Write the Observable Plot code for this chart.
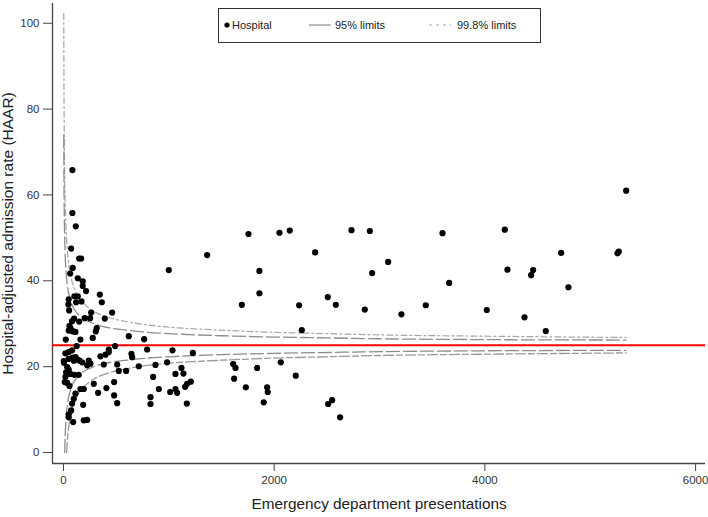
<!DOCTYPE html>
<html>
<head>
<meta charset="utf-8">
<script src="https://cdn.jsdelivr.net/npm/d3@7"></script>
<script src="https://cdn.jsdelivr.net/npm/@observablehq/plot@0.6"></script>
<style>
  body { margin: 0; background: #fff; }
  #wrap { position: relative; width: 708px; height: 517px; font-family: "Liberation Sans", Arial, sans-serif; }
  #legend { position: absolute; left: 218px; top: 8px; }
</style>
</head>
<body>
<div id="wrap"></div>
<script>
// ---- Data ----
const presentations = [
  1000,1364,1756,2050,2148,2734,2908,3598,2389,3082,1860,2930,3661,1860,1693,2237,2509,2585,2860,3208,3439,2262,
  1035,1228,873,984,851,1063,1120,1139,905,1013,1063,1079,1155,1174,1209,1171,826,826,1611,1633,1620,1838,1731,1933,1939,1901,2063,2205,2512,2550,2626,
  5341,4189,4724,5259,5271,4214,4458,4439,4793,4018,4376,4578,
  85,85,117,73,149,168,88,64,136,183,183,215,345,364,104,136,50,120,171,47,54,462,263,202,253,392,101,82,149,57,66,50,76,92,316,307,114,278,161,22,620,766,126,490,430,794,
  430,399,351,645,652,19,50,82,3,50,88,114,98,130,152,177,240,225,256,383,510,525,595,715,35,50,66,104,145,19,12,35,57,288,161,193,329,408,481,481,510,114,98,82,187,73,50,50,92,193,225,5,25
];
const haar = [
  42.5,46.0,50.9,51.2,51.7,51.8,51.6,51.1,46.6,44.4,42.3,41.8,39.5,37.1,34.4,34.3,36.2,34.4,33.3,32.2,34.3,28.5,
  23.8,23.2,20.4,21.0,17.6,18.3,19.7,18.4,14.8,14.1,14.8,13.9,15.3,16.0,16.5,11.4,12.9,11.3,20.6,19.7,17.2,19.7,15.2,15.2,14.1,11.7,21.0,17.9,11.3,12.2,8.2,
  61.0,51.9,46.5,46.4,46.8,42.6,42.5,41.3,38.5,33.2,31.5,28.3,
  65.8,55.8,52.7,47.5,45.2,45.2,43.0,41.7,40.6,39.9,38.8,37.6,36.8,35.0,36.4,36.4,35.7,35.0,35.2,34.5,33.1,32.6,32.6,31.3,31.3,31.2,31.2,30.6,30.5,29.5,29.0,28.4,28.4,28.2,29.0,28.2,28.1,26.7,26.3,26.3,27.1,26.4,24.8,24.8,24.0,24.0,
  23.4,22.8,22.4,23.0,22.2,23.1,23.4,23.8,21.3,21.8,22.1,22.2,21.4,21.7,21.4,21.0,21.4,20.3,20.7,20.5,20.5,19.0,19.0,20.1,19.9,19.3,18.3,18.1,18.1,17.6,16.4,16.2,15.5,16.0,14.8,14.8,13.9,15.0,16.4,13.3,11.5,13.7,12.5,11.4,11.1,9.8,8.9,8.2,7.1,7.5,7.6,20.9,18.7
];

const limitN    = [3,4,5,6,8,10,12,15,20,25,30,40,50,60,75,100,125,150,200,250,300,400,500,600,800,1000,1250,1500,2000,2500,3000,4000,5340];
const upper95   = [74.0,67.4,63.0,59.7,55.0,51.8,49.5,46.9,44.0,42.0,40.5,38.4,37.0,36.0,34.8,33.5,32.6,31.9,31.0,30.4,29.9,29.2,28.8,28.5,28.0,27.7,27.4,27.2,26.9,26.7,26.5,26.3,26.2];
const lower95   = [null,null,null,null,null,null,0,3.1,6.0,8.0,9.5,11.6,13.0,14.0,15.2,16.5,17.4,18.1,19.0,19.6,20.1,20.8,21.2,21.5,22.0,22.3,22.6,22.8,23.1,23.3,23.5,23.7,23.8];
const upper998  = [102.3,91.9,84.8,79.6,72.3,67.3,63.6,59.5,54.9,51.8,49.4,46.2,43.9,42.3,40.5,38.4,37.0,35.9,34.5,33.5,32.7,31.7,31.0,30.5,29.7,29.2,28.8,28.5,28.0,27.7,27.4,27.1,26.8];
const lower998  = [null,null,null,null,null,null,null,null,null,null,0,3.8,6.1,7.7,9.6,11.6,13.0,14.1,15.5,16.5,17.3,18.3,19.0,19.5,20.3,20.8,21.2,21.5,22.0,22.3,22.6,22.9,23.2];
const target    = [25];

const xTicks = [0, 2000, 4000, 6000];
const yTicks = [0, 20, 40, 60, 80, 100];
const xDomain = [-104, 6094];
const yDomain = [-2.56, 104.6];
const xTitle = "Emergency department presentations";
const yTitle = "Hospital-adjusted admission rate (HAAR)";
const legendLabels = ["Hospital", "95% limits", "99.8% limits"];

// ---- Build tables ----
const points = presentations.map((n, i) => ({n, v: haar[i]}));
const mk = arr => limitN.map((n, i) => ({n, v: arr[i]})).filter(d => d.v != null);

const font = '"Liberation Sans", Arial, sans-serif';
const chart = Plot.plot({
  width: 708, height: 517,
  marginLeft: 52, marginRight: 3, marginTop: 3, marginBottom: 54,
  x: {domain: xDomain},
  y: {domain: yDomain},
  style: {fontFamily: font, fontSize: "11px", color: "#333", background: "white"},
  marks: [
    Plot.axisY({ticks: yTicks, tickSize: 9, tickPadding: 4, label: null, fontSize: 11.5, stroke: "#444", tickFormat: d => String(d)}),
    Plot.axisX({ticks: xTicks, tickSize: 8, tickPadding: 4, label: null, fontSize: 11.5, stroke: "#444", tickFormat: d => String(d)}),
    Plot.ruleX([xDomain[0]], {stroke: "#444", strokeWidth: 1.3}),
    Plot.ruleY([yDomain[0]], {stroke: "#444", strokeWidth: 1.3}),
    Plot.line(mk(upper998), {x: "n", y: "v", stroke: "#a6a6a6", strokeWidth: 1.2, strokeDasharray: "6,3,2,3", curve: "monotone-x"}),
    Plot.line(mk(upper95), {x: "n", y: "v", stroke: "#8c8c8c", strokeWidth: 1.3, strokeDasharray: "13,4", curve: "monotone-x"}),
    Plot.line(mk(lower95), {x: "n", y: "v", stroke: "#8c8c8c", strokeWidth: 1.3, strokeDasharray: "13,4", curve: "monotone-x"}),
    Plot.line(mk(lower998), {x: "n", y: "v", stroke: "#999", strokeWidth: 1.3, strokeDasharray: "10,3,6,3", curve: "monotone-x"}),
    Plot.ruleY(target, {stroke: "#ff0000", strokeWidth: 2}),
    Plot.dot(points, {x: "n", y: "v", r: 3.1, fill: "black", stroke: "none"}),
    Plot.text([yTitle], {text: d => d, frameAnchor: "left", textAnchor: "middle", rotate: -90, dx: -44, fontSize: 15.5, fill: "#222"}),
    Plot.text([xTitle], {text: d => d, frameAnchor: "bottom", textAnchor: "middle", dy: 45, fontSize: 15.3, fill: "#222"})
  ]
});
const wrap = document.getElementById("wrap");
wrap.appendChild(chart);

// ---- Legend ----
const lg = d3.select(wrap).append("svg").attr("id", "legend")
  .attr("width", 323).attr("height", 35)
  .style("font-family", font).style("font-size", "11px");
lg.append("rect").attr("x", 0.5).attr("y", 0.5).attr("width", 322).attr("height", 34)
  .attr("fill", "white").attr("stroke", "#333").attr("stroke-width", 1);
lg.append("circle").attr("cx", 9).attr("cy", 17).attr("r", 2.6).attr("fill", "black");
lg.append("text").attr("x", 14).attr("y", 21).attr("fill", "#222").text(legendLabels[0]);
lg.append("line").attr("x1", 91).attr("x2", 113).attr("y1", 17).attr("y2", 17).attr("stroke", "#8c8c8c").attr("stroke-width", 1.2);
lg.append("text").attr("x", 117).attr("y", 21).attr("fill", "#222").text(legendLabels[1]);
lg.append("line").attr("x1", 211).attr("x2", 233).attr("y1", 17).attr("y2", 17).attr("stroke", "#a6a6a6").attr("stroke-width", 1.2).attr("stroke-dasharray", "3,4");
lg.append("text").attr("x", 239).attr("y", 21).attr("fill", "#222").text(legendLabels[2]);
</script>
</body>
</html>
